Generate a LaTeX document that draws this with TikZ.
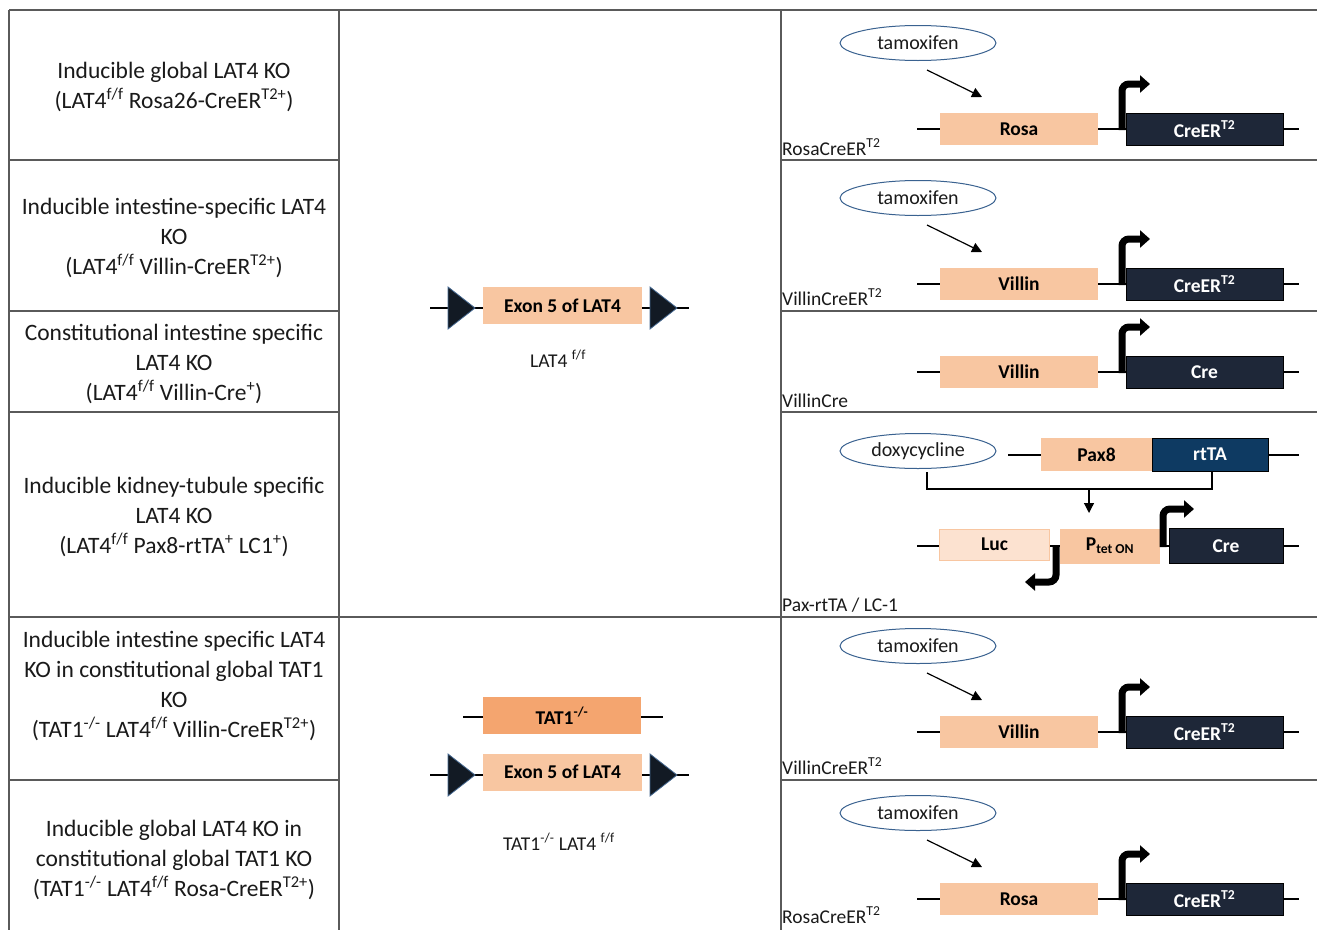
\documentclass[tikz,border=0pt]{standalone}
\usepackage{fontspec}
\setmainfont{Carlito}
\usetikzlibrary{arrows.meta,shapes.geometric}
\definecolor{peach}{HTML}{F8C6A1}
\definecolor{peachlight}{HTML}{FCE2D0}
\definecolor{tatorange}{HTML}{F4A56F}
\definecolor{navy}{HTML}{1E2738}
\definecolor{rtblue}{HTML}{0E3A62}
\definecolor{ellblue}{HTML}{3A6290}
\definecolor{gridgray}{HTML}{5A5A5A}
\definecolor{textdark}{HTML}{1A1A1A}
\definecolor{loxfill}{HTML}{121A24}
\definecolor{loxedge}{HTML}{44678F}
\tikzset{
 gridline/.style={draw=gridgray,line width=2pt},
 lefttext/.style={align=center,text=textdark,inner sep=0pt,font=\fontsize{23.5}{30}\selectfont},
 rowlabel/.style={anchor=base west,inner sep=0pt,text=textdark,font=\fontsize{19.5}{22}\selectfont},
 midlabel/.style={anchor=base,inner sep=0pt,text=textdark,font=\fontsize{19.5}{22}\selectfont},
 backbone/.style={draw=black,line width=2pt},
 genebox/.style={fill=peach,draw=none,inner sep=0pt,minimum height=32pt,text=black,font=\fontsize{19.5}{22}\selectfont\bfseries},
 crebox/.style={fill=navy,draw=black,line width=0.8pt,inner sep=0pt,minimum height=32pt,text=white,font=\fontsize{19.5}{22}\selectfont\bfseries},
 drug/.style={ellipse,draw=ellblue,line width=1pt,fill=white,inner sep=0pt,minimum width=156pt,minimum height=35pt,text=textdark,font=\fontsize{20}{22}\selectfont},
 indarrow/.style={draw=black,line width=1.2pt,-{Triangle[length=10pt,width=10pt]}},
 thinline/.style={draw=black,line width=1.2pt},
 bent/.style={draw=black,line width=7pt,rounded corners=7pt,-{Triangle[length=10pt,width=17pt]}},
 loxp/.style={fill=loxfill,draw=loxedge,line width=0.8pt},
}
\newcommand\CreRow[4]{%
 \begin{scope}[shift={(0,#1)}]
  \coordinate (bl#2) at (917,129);
  \coordinate (br#2) at (1299,129);
  \draw[backbone] (bl#2) -- (br#2);
  \node[genebox,minimum width=158pt] (pr#2) at (1019,129) {#3};
  \node[crebox,minimum width=157pt] (cr#2) at (1204.5,129) {#4};
  \coordinate (bs#2) at (1122,130);
  \coordinate (bc#2) at (1122,84);
  \coordinate (bt#2) at (1150,84);
  \draw[bent] (bs#2) -- (bc#2) -- (bt#2);
 \end{scope}}
\newcommand\Tamox[2]{%
 \begin{scope}[shift={(0,#1)}]
  \node[drug] (tm#2) at (918,43) {tamoxifen};
  \coordinate (ts#2) at (927,70);
  \coordinate (te#2) at (982,97);
  \draw[indarrow] (ts#2) -- (te#2);
 \end{scope}}
\begin{document}
\begin{tikzpicture}[x=1pt,y=-1pt]
\clip (0,0) rectangle (1317,929);
\fill[white] (0,0) rectangle (1317,929);
% grid
\draw[gridline] (9,10) -- (1317,10);
\draw[gridline] (9,10) -- (9,930);
\draw[gridline] (339,10) -- (339,930);
\draw[gridline] (781,10) -- (781,930);
\foreach \yy in {160,311,412,780}{
 \draw[gridline] (9,\yy) -- (339,\yy);
 \draw[gridline] (781,\yy) -- (1317,\yy);
}
\draw[gridline] (9,617) -- (1317,617);
% left column
\node[lefttext] (t1) at (174,87) {Inducible global LAT4 KO\\(LAT4\textsuperscript{f/f} Rosa26-CreER\textsuperscript{T2+})};
\node[lefttext] (t2) at (174,238) {Inducible intestine-specific LAT4\\KO\\(LAT4\textsuperscript{f/f} Villin-CreER\textsuperscript{T2+})};
\node[lefttext] (t3) at (174,364) {Constitutional intestine specific\\LAT4 KO\\(LAT4\textsuperscript{f/f} Villin-Cre\textsuperscript{+})};
\node[lefttext] (t4) at (174,517) {Inducible kidney-tubule specific\\LAT4 KO\\(LAT4\textsuperscript{f/f} Pax8-rtTA\textsuperscript{+} LC1\textsuperscript{+})};
\node[lefttext] (t5) at (174,686) {Inducible intestine specific LAT4\\KO in constitutional global TAT1\\KO\\(TAT1\textsuperscript{-/-} LAT4\textsuperscript{f/f} Villin-CreER\textsuperscript{T2+})};
\node[lefttext] (t6) at (174,860) {Inducible global LAT4 KO in\\constitutional global TAT1 KO\\(TAT1\textsuperscript{-/-} LAT4\textsuperscript{f/f} Rosa-CreER\textsuperscript{T2+})};
% middle column, LAT4 f/f
\coordinate (mAl) at (430,308);
\coordinate (mAr) at (689,308);
\draw[backbone] (mAl) -- (mAr);
\draw[loxp] (448,287) -- (475,308) -- (448,329) -- cycle;
\draw[loxp] (650,287) -- (677,308) -- (650,329) -- cycle;
\node[genebox,minimum width=159pt,minimum height=37pt] (exA) at (562.5,305.5) {Exon 5 of LAT4};
\node[midlabel] (labA) at (558,367) {LAT4 \textsuperscript{f/f}};
% middle column, TAT1 -/- LAT4 f/f
\coordinate (mTl) at (463,717);
\coordinate (mTr) at (663,717);
\draw[backbone] (mTl) -- (mTr);
\node[genebox,fill=tatorange,minimum width=158pt,minimum height=37pt] (tat) at (562,715.5) {TAT1\textsuperscript{-/-}};
\coordinate (mBl) at (430,775);
\coordinate (mBr) at (689,775);
\draw[backbone] (mBl) -- (mBr);
\draw[loxp] (448,754) -- (475,775) -- (448,796) -- cycle;
\draw[loxp] (650,754) -- (677,775) -- (650,796) -- cycle;
\node[genebox,minimum width=159pt,minimum height=37pt] (exB) at (562.5,772) {Exon 5 of LAT4};
\node[midlabel] (labB) at (559,850) {TAT1\textsuperscript{-/-} LAT4 \textsuperscript{f/f}};
% right column constructs
\Tamox{0}{a}
\CreRow{0}{a}{Rosa}{CreER\textsuperscript{T2}}
\node[rowlabel] (la) at (782,155) {RosaCreER\textsuperscript{T2}};
\Tamox{155}{b}
\CreRow{155}{b}{Villin}{CreER\textsuperscript{T2}}
\node[rowlabel] (lb) at (782,305) {VillinCreER\textsuperscript{T2}};
\CreRow{243}{c}{Villin}{Cre}
\node[rowlabel] (lc) at (782,407) {VillinCre};
% kidney row
\node[drug] (dox) at (918,451) {doxycycline};
\coordinate (kl1) at (1008,455);
\coordinate (kr1) at (1299,455);
\draw[backbone] (kl1) -- (kr1);
\node[genebox,minimum width=111pt,minimum height=33pt] (pax) at (1096.5,454.5) {Pax8};
\node[crebox,fill=rtblue,minimum width=116pt,minimum height=33pt] (rtta) at (1210,454.5) {rtTA};
\coordinate (brA) at (927,472);
\coordinate (brB) at (927,489);
\coordinate (brC) at (1212,489);
\coordinate (brD) at (1212,472);
\draw[thinline] (brA) -- (brB) -- (brC) -- (brD);
\coordinate (dnA) at (1089,489);
\coordinate (dnB) at (1089,513);
\draw[indarrow] (dnA) -- (dnB);
\coordinate (kl2) at (917,546);
\coordinate (kr2) at (1299,546);
\draw[backbone] (kl2) -- (kr2);
\node[genebox,fill=peachlight,draw=peach,line width=1pt,minimum width=110pt,minimum height=31pt] (luc) at (994.5,544.5) {Luc};
\node[genebox,minimum width=100pt,minimum height=35pt] (ptet) at (1110,546) {P\textsubscript{tet ON}};
\node[crebox,minimum width=114pt,minimum height=35pt] (cre4) at (1226,546) {Cre};
\coordinate (bRa) at (1163,547);
\coordinate (bRb) at (1163,509);
\coordinate (bRc) at (1194,509);
\draw[bent] (bRa) -- (bRb) -- (bRc);
\coordinate (bLa) at (1056,545);
\coordinate (bLb) at (1056,582);
\coordinate (bLc) at (1025,582);
\draw[bent] (bLa) -- (bLb) -- (bLc);
\node[rowlabel] (ld) at (782,611) {Pax-rtTA / LC-1};
% rows 5 and 6
\Tamox{603}{e}
\CreRow{603}{e}{Villin}{CreER\textsuperscript{T2}}
\node[rowlabel] (le) at (782,774) {VillinCreER\textsuperscript{T2}};
\Tamox{770}{f}
\CreRow{770}{f}{Rosa}{CreER\textsuperscript{T2}}
\node[rowlabel] (lf) at (782,923) {RosaCreER\textsuperscript{T2}};
\end{tikzpicture}
\end{document}
